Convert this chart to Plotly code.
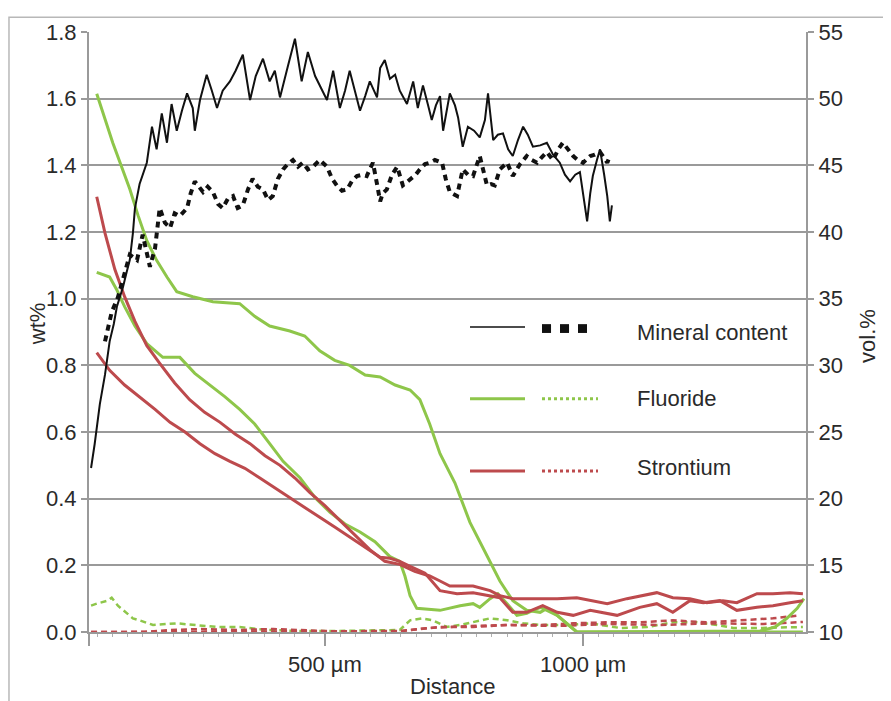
import plotly.graph_objects as go

# ---------------- data ----------------
# Mineral content (vol.%, right axis)
mineral_solid_x = [47,54,64,74,83,91,97,109,116,122,128,132,141,155,165,174,184,194,203,213,
                   223,233,244,248,258,271,281,291,302,316,327,341,355,366,380,393,403,413,428,442,
                   455,467,481,490,504,516,529,539,548,558,568,578,587,601,607,616,626,636,645,659,
                   671,680,690,700,707,715,723,729,742,752,758,767,777,789,800,810,816,826,835,845,
                   855,864,874,884,893,903,917,930,942,955,965,975,985,994,1002,1008,1014,1019,1027,1033,
                   1041,1047,1052,1056]
mineral_solid_y = [22.3,24.1,27.1,29.3,31.8,33.1,34.4,35.9,37.0,37.9,39.9,41.8,43.6,45.2,47.9,46.2,48.9,46.7,49.6,47.6,
                   49.1,50.4,49.3,47.6,49.9,51.8,50.6,49.3,50.6,51.3,52.1,53.3,49.9,51.7,53.0,51.3,52.1,50.1,52.4,54.5,
                   51.3,53.5,51.7,51.0,49.9,52.1,49.3,50.6,52.1,50.6,49.1,50.2,51.3,50.1,52.3,52.9,51.5,51.8,50.6,49.6,
                   51.3,49.3,51.0,49.5,48.4,49.5,50.2,47.6,50.4,49.5,48.6,46.4,47.9,47.6,47.1,48.4,50.4,46.9,47.3,47.4,
                   46.2,45.7,46.9,47.9,47.3,46.4,46.5,46.7,45.8,45.2,44.3,43.8,44.3,44.5,42.5,40.8,42.9,44.2,45.4,46.2,
                   44.3,42.7,40.8,42.0]

mineral_dash_x = [74,87,99,110,122,136,147,161,171,180,190,200,209,219,233,240,248,264,273,283,
                  293,302,312,322,331,341,351,360,370,380,390,399,409,419,428,438,448,457,467,477,
                  490,504,514,523,533,543,552,562,572,581,593,601,607,612,620,630,640,651,661,669,
                  676,684,694,703,713,727,734,742,756,767,777,787,800,814,822,829,839,853,864,878,
                  891,901,911,920,930,942,952,961,971,981,990,1000,1014,1023,1033,1043,1047,1052]
mineral_dash_y = [31.8,34.0,35.1,36.6,38.3,37.9,39.8,37.4,38.8,41.8,40.7,40.3,41.4,41.2,41.8,42.9,43.8,43.0,43.4,43.0,
                  42.1,41.8,42.5,42.7,41.8,42.0,43.2,44.0,43.4,43.2,42.4,42.7,44.0,44.7,45.1,45.4,44.9,45.2,44.7,44.9,
                  45.4,44.9,44.0,43.5,43.1,43.2,43.8,44.2,44.3,44.2,45.2,43.6,42.3,42.9,43.2,44.3,44.9,43.5,43.8,44.0,
                  44.3,44.7,45.1,45.2,45.4,45.2,44.0,43.0,42.7,44.7,44.3,44.2,45.7,43.5,43.6,43.5,44.7,45.2,44.2,45.1,
                  45.7,45.4,45.2,45.6,46.0,45.4,46.2,46.7,46.2,45.7,45.4,45.2,45.7,45.8,46.0,45.4,45.2,45.7]

# Fluoride (wt%, left axis)
fluoride1_x = [58,89,122,138,155,174,194,213,244,283,335,364,393,432,461,490,519,548,578,607,
               636,665,684,703,723,752,781,820,839,864,891,917,930,950,969,988,1426]
fluoride1_y = [1.615,1.468,1.329,1.25,1.174,1.115,1.065,1.021,1.006,0.991,0.985,0.947,0.918,0.903,0.888,0.844,0.815,0.80,0.771,0.765,
               0.741,0.726,0.697,0.624,0.535,0.447,0.329,0.212,0.153,0.094,0.065,0.059,0.071,0.05,0.026,0.0,0.0]

fluoride2_x = [58,83,97,112,132,155,186,219,248,277,306,335,364,393,419,452,481,510,539,568,
               597,626,645,655,665,678,723,762,787,800,820,835,853,872,891,903,918,950,969,988,
               1343,1372,1395,1415,1428]
fluoride2_y = [1.079,1.065,1.026,0.976,0.918,0.865,0.824,0.824,0.776,0.741,0.706,0.668,0.624,0.565,0.512,0.462,0.403,0.359,0.324,0.30,
               0.271,0.226,0.212,0.168,0.109,0.071,0.065,0.079,0.085,0.074,0.10,0.115,0.085,0.05,0.056,0.065,0.074,0.05,0.026,0.0,
               0.003,0.015,0.041,0.071,0.10]

fluoride_dash_x = [47,58,79,87,99,116,128,141,167,213,244,291,335,388,452,516,645,665,688,709,
                   736,762,820,853,884,917,969,1014,1072,1124,1174,1221,1260,1291,1343,1426]
fluoride_dash_y = [0.079,0.085,0.094,0.103,0.079,0.056,0.041,0.035,0.021,0.026,0.021,0.015,0.015,0.006,0.003,0.003,0.006,0.035,0.041,0.035,
                   0.015,0.021,0.041,0.035,0.026,0.021,0.021,0.026,0.012,0.015,0.029,0.029,0.021,0.012,0.012,0.015]

# Strontium (wt%, left axis)
strontium1_x = [58,74,93,112,132,155,180,209,238,267,297,326,355,384,413,442,471,500,529,558,
                587,616,645,674,703,723,742,787,820,839,864,917,950,988,1047,1085,1143,1174,1207,1240,
                1271,1298,1337,1368,1401,1426]
strontium1_y = [1.306,1.197,1.088,1.006,0.932,0.859,0.806,0.747,0.697,0.659,0.629,0.594,0.565,0.529,0.50,0.462,0.418,0.379,0.335,0.291,
                0.247,0.212,0.203,0.182,0.168,0.153,0.138,0.138,0.124,0.109,0.10,0.10,0.10,0.103,0.085,0.10,0.118,0.103,0.10,0.088,
                0.094,0.088,0.115,0.115,0.118,0.115]

strontium2_x = [58,83,112,141,171,200,229,258,287,316,345,374,403,432,461,490,519,548,578,607,
                626,645,665,694,723,756,787,820,839,864,891,922,950,981,1014,1066,1110,1143,1174,1207,
                1233,1265,1298,1337,1368,1401,1426]
strontium2_y = [0.838,0.785,0.741,0.706,0.668,0.629,0.60,0.565,0.535,0.512,0.491,0.462,0.432,0.403,0.374,0.344,0.315,0.285,0.256,0.224,
                0.221,0.212,0.197,0.176,0.124,0.115,0.118,0.109,0.103,0.059,0.059,0.079,0.059,0.05,0.065,0.05,0.074,0.085,0.059,0.094,
                0.088,0.094,0.065,0.074,0.079,0.088,0.094]

strontium_dash1_x = [47,645,723,787,853,917,981,1047,1110,1174,1240,1304,1368,1420]
strontium_dash1_y = [0.0,0.003,0.015,0.015,0.021,0.021,0.026,0.029,0.029,0.035,0.029,0.035,0.041,0.05]

strontium_dash2_x = [47,150,200,260,330,400,500,580,650,700,780,860,950,1050,1150,1250,1350,1426]
strontium_dash2_y = [0.0,0.0,0.006,0.009,0.006,0.009,0.003,0.0,0.003,0.012,0.018,0.021,0.018,0.024,0.021,0.026,0.024,0.03]

x_tick_vals = [43, 500, 1000]
x_tick_text = ["", "500 µm", "1000 µm"]
wt_ticks = [0.0, 0.2, 0.4, 0.6, 0.8, 1.0, 1.2, 1.4, 1.6, 1.8]
vol_ticks = [10, 15, 20, 25, 30, 35, 40, 45, 50, 55]
legend_labels = ["Mineral content", "Fluoride", "Strontium"]

# ---------------- styles ----------------
GREEN = "#8ec64a"
RED = "#bd4a4d"
BLACK = "#111111"
GRID = "#9a9a9a"
TXT = "#2a2a2a"
FONT = "Liberation Sans, Arial, sans-serif"
FS = 22

fig = go.Figure()

def add(x, y, color, width, dash="solid", axis="y"):
    fig.add_trace(go.Scatter(x=x, y=y, mode="lines", yaxis=axis,
                             line=dict(color=color, width=width, dash=dash),
                             hoverinfo="skip"))

add(fluoride_dash_x, fluoride_dash_y, GREEN, 2.5, "6px,4px")
add(strontium_dash2_x, strontium_dash2_y, RED, 2.5, "6px,4px")
add(strontium_dash1_x, strontium_dash1_y, RED, 2.5, "6px,4px")
add(fluoride1_x, fluoride1_y, GREEN, 3)
add(fluoride2_x, fluoride2_y, GREEN, 3)
add(strontium1_x, strontium1_y, RED, 3)
add(strontium2_x, strontium2_y, RED, 3)
add(mineral_dash_x, mineral_dash_y, BLACK, 4, "6px,5px", "y2")
add(mineral_solid_x, mineral_solid_y, BLACK, 2, "solid", "y2")

fig.update_layout(
    width=883, height=693,
    margin=dict(l=81, r=85, t=12, b=69),
    paper_bgcolor="white", plot_bgcolor="white",
    showlegend=False,
    font=dict(family=FONT, size=FS, color=TXT),
    xaxis=dict(range=[43, 1432], tickvals=x_tick_vals, ticktext=x_tick_text,
               ticks="outside", ticklen=12, tickwidth=2, tickcolor=GRID,
               showline=True, linecolor=GRID, linewidth=2, showgrid=False, zeroline=False,
               tickfont=dict(size=FS, color=TXT),
               minor=dict(dtick=500/17, ticks="outside", ticklen=3, tickwidth=1, tickcolor="#b0b0b0")),
    yaxis=dict(range=[0, 1.8002], tickvals=wt_ticks, tickformat=".1f",
               ticks="outside", ticklen=6, tickwidth=2, tickcolor=GRID,
               showline=True, linecolor=GRID, linewidth=2, ticklabeloverflow="allow",
               showgrid=True, gridcolor=GRID, gridwidth=2, zeroline=False,
               tickfont=dict(size=FS, color=TXT)),
    yaxis2=dict(range=[10, 55.005], tickvals=vol_ticks, overlaying="y", side="right",
                ticks="outside", ticklen=6, tickwidth=2, tickcolor=GRID,
                showline=True, linecolor=GRID, linewidth=2, ticklabeloverflow="allow",
                showgrid=False, zeroline=False,
                tickfont=dict(size=FS, color=TXT)),
)

# axis titles
fig.add_annotation(text="wt%", x=-0.0725, y=0.513, xref="paper", yref="paper",
                   xanchor="center", yanchor="middle",
                   textangle=-90, showarrow=False, font=dict(size=FS, color=TXT))
fig.add_annotation(text="vol.%", x=1.0865, y=0.4935, xref="paper", yref="paper",
                   xanchor="center", yanchor="middle",
                   textangle=-90, showarrow=False, font=dict(size=FS, color=TXT))
fig.add_annotation(text="Distance", x=0.5077, y=-0.0915, xref="paper", yref="paper",
                   xanchor="center", yanchor="middle",
                   showarrow=False, font=dict(size=FS, color=TXT))

# outer frame
fig.add_shape(type="rect", xref="paper", yref="paper", x0=-0.1116, y0=-0.2, x1=1.3, y1=1.0245,
              line=dict(color="#b8b8b8", width=1.5), layer="below")

# custom legend
def seg(x0, x1, y, color, width, dash="solid"):
    fig.add_shape(type="line", xref="paper", yref="paper", x0=x0, x1=x1, y0=y, y1=y,
                  line=dict(color=color, width=width, dash=dash))

seg(0.5314, 0.6081, 0.5082, BLACK, 1.5)
for a, b in [(0.6318, 0.6444), (0.6569, 0.6695), (0.6820, 0.6946)]:
    fig.add_shape(type="rect", xref="paper", yref="paper", x0=a, x1=b, y0=0.4984, y1=0.5131,
                  line=dict(width=0), fillcolor=BLACK)
seg(0.5314, 0.6081, 0.3889, GREEN, 3)
seg(0.6318, 0.7099, 0.3889, GREEN, 3, "3px,3px")
seg(0.5314, 0.6081, 0.2683, RED, 3)
seg(0.6318, 0.7099, 0.2683, RED, 3, "3px,3px")

for txt, yy in zip(legend_labels, [0.4984, 0.3889, 0.2745]):
    fig.add_annotation(text=txt, x=0.7615, y=yy, xref="paper", yref="paper",
                       xanchor="left", yanchor="middle", showarrow=False,
                       font=dict(size=FS, color=TXT))

fig.write_html("out.html")
